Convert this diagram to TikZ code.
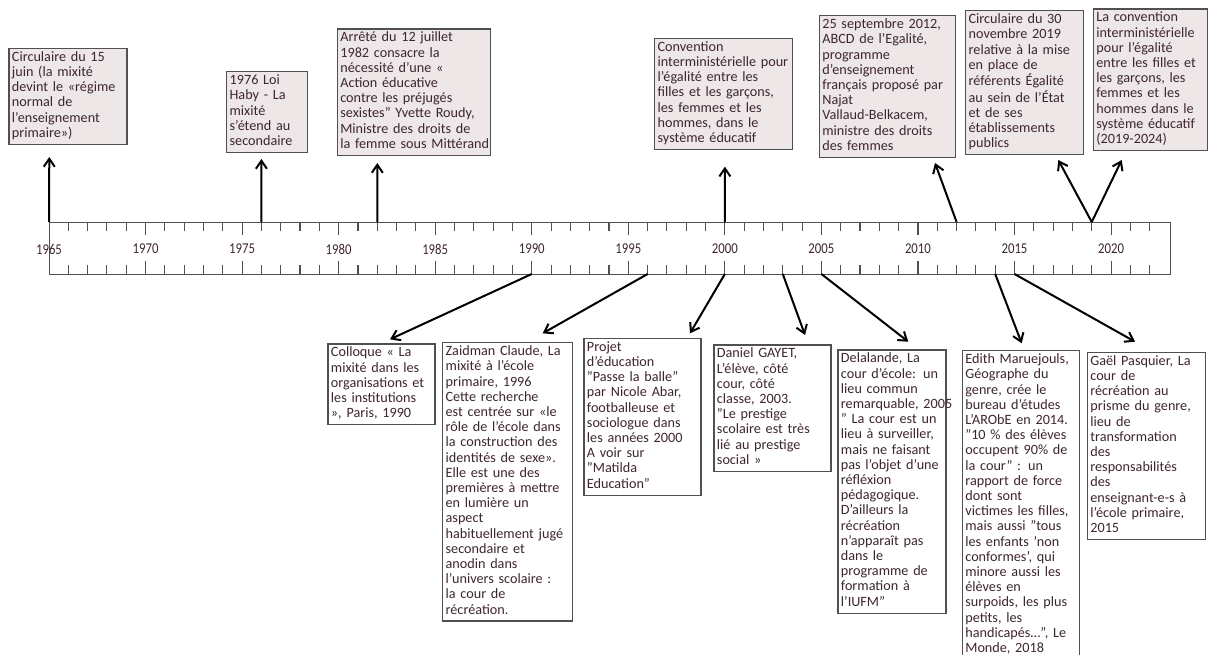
\documentclass[tikz,border=0pt]{standalone}
\usepackage{fontspec}
\setmainfont{Carlito}
\usetikzlibrary{arrows.meta}

\definecolor{boxfill}{RGB}{237,231,231}
\definecolor{boxline}{RGB}{80,80,80}
\definecolor{ink}{RGB}{62,38,48}
\newcommand{\lines}[1]{\begin{tabular}{@{}l@{}}#1\end{tabular}}

\begin{document}
\begin{tikzpicture}[x=1pt,y=-1pt,
    event/.style={draw=boxline,line width=1.3pt,fill=boxfill,anchor=north west,
      inner xsep=3pt,inner ysep=2.4pt,text=ink,font=\fontsize{14.2}{15.2}\selectfont},
    source/.style={event,fill=white},
    yearlbl/.style={text=ink,inner sep=0pt,font=\fontsize{15}{16}\selectfont},
    tick/.style={line width=1.1pt,draw=boxline},
    arr/.style={line width=2pt,-{Straight Barb[length=8pt,width=11pt]}}]
    \useasboundingbox (0,0) rectangle (1208,654);
    % Timeline: left end = 1965, one year = \dx
    \def\xa{49}
    \def\dx{19.31}
    \def\ytop{222}
    \def\ybot{274}

    % Bar and ticks
    \node[draw=boxline,line width=1.3pt,anchor=north west,inner sep=0pt,
      minimum width=1121pt,minimum height=52pt] (bar) at (\xa,\ytop) {};
    \foreach \yr in {1966,...,2022} {
      \pgfmathsetmacro\xx{\xa+(\yr-1965)*\dx}
      \pgfmathtruncatemacro\m{mod(\yr,5)}
      \ifnum\m=0 \def\tl{12.7}\else\def\tl{8.7}\fi
      \draw[tick] (\xx,\ytop) -- (\xx,\ytop+\tl);
      \draw[tick] (\xx,\ybot) -- (\xx,\ybot-\tl);
    }
    \foreach \yr in {1965,1970,...,2020} {
      \node[yearlbl] (l\yr) at ({\xa+(\yr-1965)*\dx},249) {\scalebox{0.85}[1]{\yr}};
    }

    % Anchor points on the bar
    \foreach \yr in {1965,1976,1982,2000,2012,2019} {
      \coordinate (t\yr) at ({\xa+(\yr-1965)*\dx},\ytop);
    }
    \foreach \yr in {1990,1996,2000,2003,2005,2014,2015} {
      \coordinate (b\yr) at ({\xa+(\yr-1965)*\dx},\ybot);
    }

    % Events above the timeline
    \node[event,text width=112pt] (circ1965) at (8.3,47.7)
      {\lines{Circulaire du 15\\juin (la mixité\\devint le «régime\\normal de\\l’enseignement\\primaire»)}};
    \node[event,text width=75pt] (haby) at (226,71)
      {\lines{1976 Loi\\Haby - La\\mixité\\s’étend au\\secondaire}};
    \node[event,text width=147pt] (roudy) at (336.7,28.3)
      {\lines{Arrêté du 12 juillet\\1982 consacre la\\nécessité d’une «\\Action éducative\\contre les préjugés\\sexistes" Yvette Roudy,\\Ministre des droits de\\la femme sous Mittérand}};
    \node[event,text width=132pt] (conv2000) at (654,37.7)
      {\lines{Convention\\interministérielle pour\\l’égalité entre les\\filles et les garçons,\\les femmes et les\\hommes, dans le\\système éducatif}};
    \node[event,text width=130pt] (abcd) at (818.7,15)
      {\lines{25 septembre 2012,\\ABCD de l’Egalité,\\programme\\d’enseignement\\français proposé par\\Najat\\Vallaud-Belkacem,\\ministre des droits\\des femmes}};
    \node[event,text width=112pt] (circ2019) at (965,10)
      {\lines{Circulaire du 30\\novembre 2019\\relative à la mise\\en place de\\référents Égalité\\au sein de l’État\\et de ses\\établissements\\publics}};
    \node[event,text width=108pt] (conv2019) at (1092.7,8.3)
      {\lines{La convention\\interministérielle\\pour l’égalité\\entre les filles et\\les garçons, les\\femmes et les\\hommes dans le\\système éducatif\\(2019-2024)}};

    % Sources below the timeline
    \node[source,text width=101pt] (colloque) at (327.3,343.3)
      {\lines{Colloque « La\\mixité dans les\\organisations et\\les institutions\\», Paris, 1990}};
    \node[source,text width=124pt] (zaidman) at (442,342)
      {\lines{Zaidman Claude, La\\mixité à l’école\\primaire, 1996\\Cette recherche\\est centrée sur «le\\rôle de l’école dans\\la construction des\\identités de sexe».\\Elle est une des\\premières à  mettre\\en lumière un\\aspect\\habituellement jugé\\secondaire et\\anodin dans\\l’univers scolaire :\\la cour de\\récréation.}};
    \node[source,text width=111pt] (abar) at (583.3,337.7)
      {\lines{Projet\\d’éducation\\"Passe la balle"\\par Nicole Abar,\\footballeuse et\\sociologue dans\\les années 2000\\A voir sur\\"Matilda\\Education"}};
    \node[source,text width=111pt] (gayet) at (713.3,344.3)
      {\lines{Daniel GAYET,\\L’élève, côté\\cour, côté\\classe, 2003.\\"Le prestige\\scolaire est très\\lié au prestige\\social »}};
    \node[source,text width=102pt] (delalande) at (837.3,349.3)
      {\lines{Delalande, La\\cour d’école: un\\lieu commun\\remarquable, 2005\\" La cour est un\\lieu à surveiller,\\mais ne faisant\\pas l’objet d’une\\réfléxion\\pédagogique.\\D’ailleurs la\\récréation\\n’apparaît pas\\dans le\\programme de\\formation à\\l’IUFM"}};
    \node[source,text width=111pt] (maruejouls) at (961.7,350)
      {\lines{Edith Maruejouls,\\Géographe du\\genre, crée le\\bureau d’études\\L’ARObE en 2014.\\"10 \% des élèves\\occupent 90\% de\\la cour" : un\\rapport de force\\dont sont\\victimes les filles,\\mais aussi "tous\\les enfants 'non\\conformes', qui\\minore aussi les\\élèves en\\surpoids, les plus\\petits, les\\handicapés…", Le\\Monde, 2018}};
    \node[source,text width=112pt] (pasquier) at (1086.7,351.7)
      {\lines{Gaël Pasquier, La\\cour de\\récréation au\\prisme du genre,\\lieu de\\transformation\\des\\responsabilités\\des\\enseignant-e-s à\\l’école primaire,\\2015}};

    % Arrow heads stop short of the boxes
    \coordinate (p1965) at (49.3,157);
    \coordinate (p1976) at (261.4,159);
    \coordinate (p1982) at (377.3,163);
    \coordinate (p2000) at (724.9,166.7);
    \coordinate (p2012) at (935,163);
    \coordinate (p2019a) at (1058.3,160);
    \coordinate (p2019b) at (1121.7,160);
    \coordinate (q1990) at (390,339.3);
    \coordinate (q1996) at (542.7,333.3);
    \coordinate (q2000) at (690,333.3);
    \coordinate (q2003) at (805,335);
    \coordinate (q2005) at (908.3,341.7);
    \coordinate (q2014) at (1021.7,343.3);
    \coordinate (q2015) at (1135,341.7);

    % Arrows up
    \foreach \i in {1965,1976,1982,2000,2012} {
      \draw[arr] (t\i) -- (p\i);
    }
    \draw[arr] (t2019) -- (p2019a);
    \draw[arr] (t2019) -- (p2019b);

    % Arrows down
    \foreach \i in {1990,1996,2000,2003,2005,2014,2015} {
      \draw[arr] (b\i) -- (q\i);
    }

  \end{tikzpicture}
\end{document}
